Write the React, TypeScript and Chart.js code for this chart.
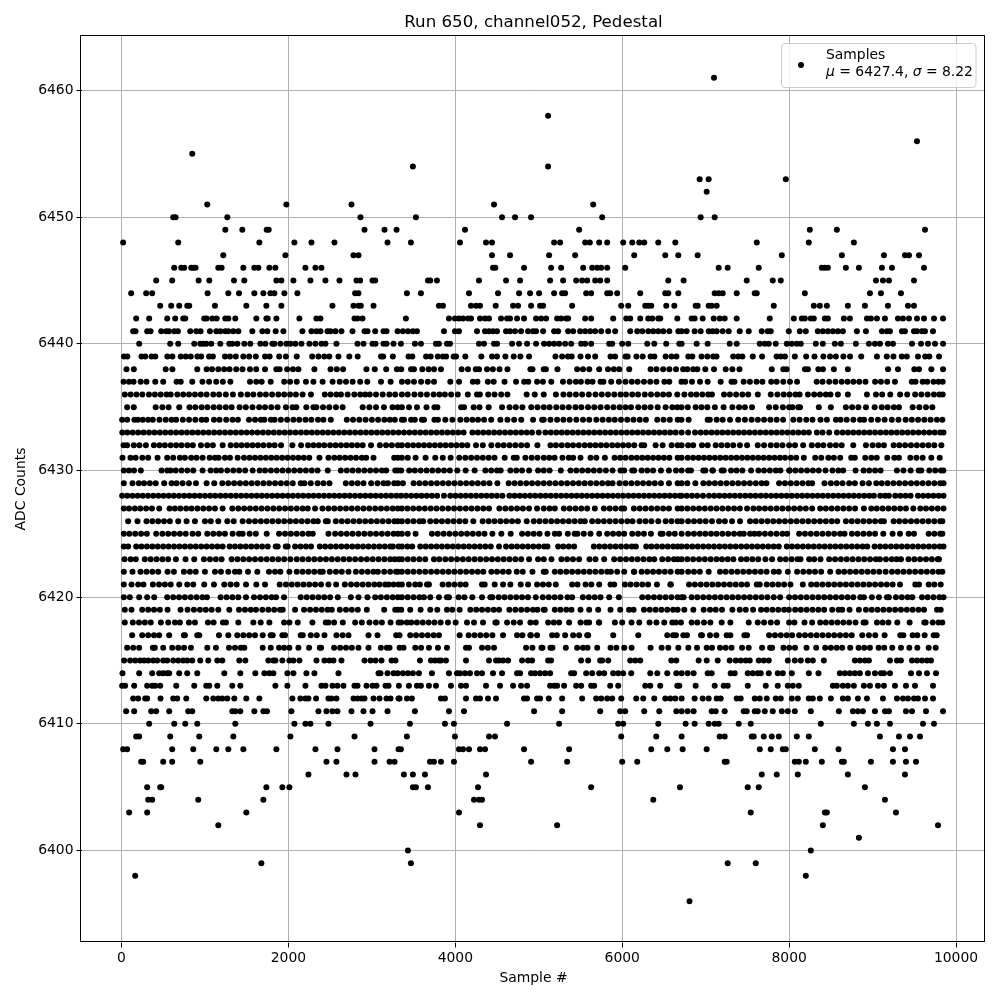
import React, { useEffect, useRef } from "react";
import { Chart, registerables } from "chart.js";

Chart.register(...registerables);

const titleText = "Run 650, channel052, Pedestal";
const xAxisLabel = "Sample #";
const yAxisLabel = "ADC Counts";
const seriesLabel = "Samples";
const meanValue = "6427.4";
const sigmaValue = "8.22";
const xTickValues = [0, 2000, 4000, 6000, 8000, 10000];
const yTickValues = [6400, 6410, 6420, 6430, 6440, 6450, 6460];
const FONT = "'DejaVu Sans'";

const lv6461 = [7100];
const lv6458 = [5112];
const lv6456 = [9532];
const lv6455 = [848];
const lv6454 = [3492, 5112];
const lv6453 = [6928, 7036, 7960];
const lv6452 = [7012];
const lv6451 = [1028, 1976, 2756, 4464, 5652];
const lv6450 = [620, 648, 1268, 2864, 3528, 4560, 4716, 4908, 5760, 6940, 7108];
const lv6449 = [1244, 1448, 1740, 1764, 2912, 3152, 3296, 4116, 5484, 8248, 8572, 9628];
const lv6448 = [20, 680, 1652, 2072, 2276, 2552, 3188, 3468, 4056, 4368, 4440, 5184, 5256, 5556, 5612, 5724, 5820, 6012, 6120, 6204, 6264, 6432, 6636, 7612, 8236, 8776];
const lv6447 = [1220, 1964, 2780, 2840, 4440, 4656, 5124, 5436, 6144, 6516, 6672, 6904, 7912, 8632, 9136, 9388, 9436, 9556];
const lv6446 = [632, 716, 752, 836, 860, 888, 1160, 1200, 1460, 1592, 1640, 1772, 1844, 2204, 2324, 2396, 4452, 4480, 4824, 5148, 5268, 5532, 5640, 5700, 5748, 5820, 6036, 7156, 7264, 7636, 8392, 8428, 8464, 8680, 8836, 9112, 9232, 9616];
const lv6445 = [416, 608, 924, 1052, 1348, 1472, 1856, 1916, 2060, 2264, 2444, 2612, 2816, 2860, 3008, 3040, 3672, 3700, 3780, 4284, 4608, 4776, 5136, 5292, 5448, 5520, 5580, 5676, 5736, 5820, 6552, 6736, 7492, 7804, 7900, 9040, 9124, 9196, 9496];
const lv6444 = [116, 296, 368, 1032, 1280, 1408, 1592, 1700, 1784, 1832, 1952, 2108, 2800, 2840, 3420, 3588, 4164, 4512, 4764, 4896, 5004, 5184, 5280, 5316, 5568, 5628, 5820, 5856, 5940, 6216, 6516, 6552, 6672, 7108, 7156, 7204, 7372, 7588, 7612, 8188, 8968, 9100, 9340];
const lv6443 = [464, 596, 692, 788, 812, 1120, 1496, 1736, 1916, 2528, 2780, 2840, 2868, 3020, 3804, 3852, 4188, 4248, 4296, 4484, 4692, 4752, 4908, 5016, 5052, 5400, 5988, 6072, 6276, 6312, 6348, 6528, 6624, 6880, 6904, 7036, 7072, 7132, 7816, 8296, 8368, 8452, 8704, 8908, 9184, 9424, 9496];
const lv6442 = [176, 332, 548, 644, 740, 764, 992, 1020, 1088, 1140, 1244, 1280, 1364, 1616, 1736, 1752, 1856, 2132, 2336, 2384, 2792, 2828, 2888, 3408, 3924, 3996, 4044, 4092, 4152, 4188, 4296, 4356, 4404, 4548, 4620, 4656, 4740, 4824, 4968, 5028, 5088, 5220, 5268, 5328, 5352, 5556, 5628, 5892, 6048, 6096, 6216, 6312, 6360, 6432, 6456, 6660, 6832, 6868, 6964, 7096, 7168, 7228, 7372, 7768, 8056, 8152, 8188, 8260, 8296, 8428, 8464, 8656, 8728, 8932, 8980, 9052, 9148, 9304, 9364, 9436, 9532, 9616, 9736, 9844];
const lv6441 = [140, 168, 308, 348, 476, 536, 568, 632, 676, 824, 896, 948, 1060, 1136, 1184, 1244, 1280, 1340, 1400, 1568, 1688, 1748, 1848, 1940, 2168, 2276, 2336, 2384, 2468, 2504, 2564, 2636, 2768, 2912, 2948, 3040, 3140, 3176, 3308, 3372, 3432, 3492, 3540, 3864, 3996, 4044, 4260, 4356, 4404, 4452, 4500, 4608, 4656, 4716, 4788, 4872, 4932, 4968, 5052, 5184, 5232, 5352, 5412, 5496, 5556, 5616, 5676, 5748, 5832, 5916, 6096, 6180, 6240, 6312, 6372, 6432, 6492, 6564, 6672, 6712, 6772, 6868, 6940, 7036, 7084, 7132, 7204, 7276, 7408, 7516, 7672, 7744, 7780, 7996, 8128, 8200, 8344, 8404, 8464, 8524, 8584, 8644, 8812, 8920, 9112, 9172, 9208, 9352, 9388, 9496, 9532, 9592, 9628, 9724];
const lv6440 = [212, 584, 680, 872, 944, 980, 1016, 1076, 1184, 1292, 1328, 1388, 1472, 1544, 1664, 1724, 1808, 1832, 1904, 1976, 2024, 2084, 2156, 2252, 2324, 2396, 2444, 2576, 2828, 2900, 3008, 3044, 3140, 3176, 3260, 3348, 3516, 3588, 3768, 3804, 3900, 3936, 4284, 4344, 4464, 4500, 4680, 4764, 4860, 4968, 5064, 5124, 5184, 5244, 5316, 5388, 5508, 5556, 5628, 5844, 5880, 6000, 6072, 6300, 6384, 6528, 6684, 6712, 6892, 7024, 7288, 7372, 7648, 7708, 7756, 7840, 7972, 8032, 8092, 8140, 8320, 8404, 8548, 8620, 8800, 8956, 9028, 9088, 9184, 9244, 9472, 9580, 9664, 9748, 9844];
const lv6439 = [30, 70, 240, 285, 360, 405, 550, 610, 710, 770, 830, 910, 955, 1050, 1095, 1240, 1300, 1370, 1460, 1530, 1610, 1720, 1775, 1890, 1970, 2100, 2285, 2360, 2430, 2490, 2600, 2730, 2830, 3110, 3135, 3252, 3440, 3485, 3650, 3705, 3790, 3850, 3890, 3980, 4010, 4120, 4312, 4440, 4500, 4600, 4700, 4780, 4884, 5200, 5280, 5350, 5395, 5500, 5590, 5676, 5860, 5915, 6040, 6065, 6170, 6245, 6340, 6385, 6520, 6590, 6650, 6792, 6840, 6950, 7020, 7090, 7130, 7330, 7390, 7440, 7564, 7676, 7850, 7900, 7950, 8068, 8204, 8304, 8410, 8490, 8560, 8650, 8730, 8864, 9052, 9170, 9250, 9350, 9410, 9544, 9630, 9680, 9796];
const lv6438 = [60, 148, 530, 610, 908, 1020, 1085, 1160, 1230, 1295, 1375, 1450, 1540, 1615, 1720, 1855, 1895, 1985, 2055, 2120, 2312, 2505, 2580, 2655, 2935, 3035, 3172, 3300, 3352, 3470, 3505, 3605, 3680, 3745, 3828, 4076, 4152, 4245, 4285, 4380, 4450, 4530, 4625, 4900, 4925, 5060, 5085, 5224, 5460, 5530, 5605, 5724, 5830, 5900, 5965, 6084, 6340, 6410, 6490, 6565, 6645, 6730, 6780, 6850, 6900, 6996, 7100, 7240, 7320, 7405, 7792, 7930, 7970, 8190, 8225, 8350, 8405, 8536, 8704, 9185, 9304, 9500, 9556, 9704, 9844];
const lv6437 = [25, 90, 145, 230, 300, 405, 500, 660, 710, 848, 970, 1050, 1135, 1215, 1305, 1540, 1615, 1680, 1788, 1950, 2020, 2100, 2210, 2300, 2410, 2530, 2615, 2690, 2770, 2860, 2945, 3110, 3225, 3360, 3430, 3505, 3590, 3670, 3745, 3940, 4045, 4210, 4265, 4390, 4460, 4590, 4728, 4825, 4875, 4980, 5050, 5150, 5290, 5370, 5445, 5505, 5585, 5645, 5740, 5775, 5868, 5960, 6040, 6115, 6185, 6260, 6335, 6410, 6505, 6564, 6710, 6755, 6836, 6932, 7024, 7180, 7310, 7345, 7455, 7530, 7610, 7680, 7785, 7850, 7930, 8010, 8095, 8330, 8400, 8480, 8555, 8630, 8700, 8770, 8840, 8915, 9030, 9100, 9175, 9268, 9470, 9515, 9600, 9655, 9730, 9790, 9840];
const lv6436 = [40, 110, 180, 250, 330, 400, 470, 540, 590, 670, 740, 810, 880, 950, 1020, 1100, 1170, 1250, 1335, 1430, 1510, 1580, 1660, 1730, 1805, 1880, 1950, 2020, 2090, 2170, 2270, 2436, 2505, 2575, 2630, 2710, 2790, 2860, 2920, 2975, 3050, 3130, 3210, 3280, 3360, 3430, 3510, 3585, 3660, 3740, 3810, 3875, 3950, 4030, 4150, 4260, 4295, 4395, 4470, 4550, 4625, 4855, 4952, 5060, 5205, 5295, 5370, 5445, 5520, 5600, 5680, 5755, 5830, 5905, 5980, 6045, 6120, 6190, 6270, 6345, 6420, 6490, 6560, 6660, 6745, 6824, 6890, 6960, 7030, 7075, 7220, 7290, 7365, 7440, 7510, 7625, 7780, 7860, 7935, 8005, 8075, 8125, 8225, 8300, 8370, 8440, 8495, 8584, 8704, 8932, 9040, 9115, 9212, 9330, 9415, 9510, 9585, 9660, 9735, 9800, 9840];
const lv6435 = [68, 148, 410, 490, 565, 692, 815, 885, 960, 1030, 1105, 1175, 1250, 1320, 1415, 1490, 1570, 1650, 1720, 1795, 1870, 1970, 2050, 2095, 2215, 2300, 2335, 2415, 2490, 2570, 2650, 2890, 2970, 3050, 3145, 3248, 3310, 3360, 3445, 3540, 3655, 3750, 3785, 4070, 4105, 4220, 4290, 4400, 4560, 4650, 4725, 4804, 4910, 4985, 5060, 5130, 5210, 5285, 5360, 5440, 5510, 5590, 5665, 5740, 5820, 5895, 5970, 6040, 6105, 6192, 6268, 6340, 6425, 6520, 6600, 6660, 6710, 6785, 6880, 6950, 7020, 7110, 7215, 7320, 7400, 7470, 7555, 7760, 7840, 7925, 8000, 8040, 8110, 8130, 8356, 8500, 8680, 8755, 8830, 8920, 9025, 9110, 9180, 9255, 9316, 9480, 9560, 9640, 9716];
const lv6434 = [8, 68, 155, 195, 255, 320, 375, 455, 530, 600, 655, 735, 810, 885, 960, 1015, 1108, 1175, 1255, 1330, 1395, 1528, 1600, 1670, 1712, 1790, 1835, 1910, 1985, 2060, 2130, 2205, 2275, 2355, 2420, 2508, 2700, 2775, 2850, 2925, 3000, 3075, 3150, 3215, 3275, 3360, 3385, 3470, 3515, 3600, 3625, 3750, 3792, 3880, 3965, 4060, 4135, 4205, 4272, 4345, 4430, 4540, 4625, 4705, 4790, 4932, 5040, 5060, 5140, 5220, 5295, 5370, 5450, 5530, 5605, 5690, 5765, 5840, 5910, 5985, 6060, 6135, 6210, 6284, 6420, 6495, 6570, 6665, 6710, 6796, 7024, 7050, 7132, 7204, 7292, 7390, 7470, 7550, 7625, 7700, 7775, 7850, 7928, 8050, 8125, 8205, 8280, 8376, 8452, 8560, 8616, 8690, 8770, 8850, 8898, 8984, 9064, 9144, 9230, 9310, 9396, 9470, 9545, 9620, 9695, 9770, 9836];
const lv6433 = [10, 70, 135, 200, 265, 330, 395, 460, 525, 590, 655, 720, 785, 850, 915, 980, 1045, 1110, 1175, 1240, 1305, 1370, 1435, 1500, 1565, 1630, 1695, 1760, 1825, 1890, 1955, 2020, 2085, 2150, 2215, 2280, 2345, 2410, 2475, 2540, 2605, 2670, 2735, 2800, 2865, 2930, 2995, 3060, 3125, 3190, 3255, 3320, 3385, 3450, 3515, 3580, 3645, 3710, 3775, 3840, 3905, 3970, 4035, 4100, 4205, 4270, 4335, 4400, 4465, 4530, 4595, 4660, 4725, 4790, 4855, 4920, 5000, 5080, 5145, 5210, 5275, 5340, 5405, 5470, 5535, 5600, 5665, 5730, 5795, 5860, 5925, 5990, 6055, 6120, 6185, 6250, 6315, 6380, 6445, 6510, 6575, 6640, 6712, 6790, 6872, 6940, 7005, 7070, 7135, 7200, 7265, 7330, 7395, 7460, 7525, 7590, 7655, 7720, 7785, 7850, 7915, 7980, 8045, 8110, 8175, 8236, 8332, 8400, 8480, 8572, 8640, 8705, 8770, 8835, 8900, 8965, 9030, 9095, 9160, 9225, 9290, 9355, 9420, 9485, 9550, 9615, 9680, 9745, 9810, 9850];
const lv6432 = [25, 68, 148, 215, 292, 388, 455, 520, 590, 655, 720, 790, 855, 952, 1028, 1095, 1212, 1308, 1375, 1440, 1505, 1570, 1635, 1700, 1770, 1835, 1912, 2048, 2152, 2236, 2300, 2365, 2430, 2500, 2565, 2630, 2695, 2760, 2825, 2890, 2990, 3096, 3170, 3240, 3312, 3360, 3430, 3495, 3560, 3625, 3690, 3755, 3820, 3885, 3950, 4015, 4080, 4144, 4248, 4330, 4432, 4512, 4580, 4650, 4720, 4790, 4860, 4984, 5140, 5205, 5275, 5345, 5410, 5480, 5550, 5615, 5680, 5745, 5810, 5880, 5945, 6010, 6075, 6144, 6232, 6264, 6400, 6484, 6592, 6664, 6712, 6790, 6850, 6956, 7024, 7120, 7190, 7260, 7330, 7410, 7496, 7624, 7700, 7780, 7850, 7920, 8000, 8070, 8168, 8272, 8345, 8410, 8490, 8560, 8630, 8768, 8920, 9000, 9070, 9136, 9252, 9320, 9390, 9460, 9530, 9600, 9670, 9740, 9824];
const lv6431 = [12, 108, 170, 250, 320, 432, 548, 620, 700, 760, 835, 900, 972, 1056, 1120, 1164, 1240, 1300, 1392, 1468, 1535, 1600, 1665, 1730, 1795, 1860, 1925, 1990, 2055, 2120, 2185, 2250, 2372, 2480, 2550, 2615, 2680, 2745, 2810, 2880, 2932, 3020, 3268, 3312, 3360, 3430, 3524, 3644, 3760, 3850, 3944, 4048, 4120, 4190, 4260, 4330, 4400, 4470, 4592, 4700, 4736, 4840, 4915, 4985, 5060, 5125, 5190, 5284, 5360, 5412, 5500, 5620, 5690, 5792, 5908, 5975, 6040, 6110, 6175, 6240, 6305, 6370, 6435, 6500, 6565, 6664, 6712, 6785, 6850, 6915, 6980, 7045, 7110, 7175, 7240, 7305, 7370, 7435, 7500, 7565, 7630, 7695, 7760, 7825, 7890, 7950, 8020, 8085, 8176, 8312, 8385, 8470, 8536, 8612, 8744, 8788, 8912, 8985, 9050, 9176, 9260, 9316, 9452, 9525, 9600, 9704, 9804];
const lv6430 = [28, 90, 150, 232, 480, 548, 588, 650, 720, 790, 860, 972, 1068, 1135, 1192, 1268, 1340, 1410, 1482, 1572, 1656, 1720, 1790, 1860, 1930, 2000, 2070, 2140, 2210, 2280, 2350, 2472, 2628, 2700, 2770, 2840, 2910, 2980, 3050, 3120, 3172, 3280, 3312, 3352, 3448, 3515, 3585, 3655, 3725, 3795, 3865, 3935, 4024, 4124, 4232, 4360, 4430, 4500, 4544, 4660, 4730, 4800, 4884, 4992, 5060, 5130, 5264, 5380, 5450, 5520, 5590, 5660, 5730, 5804, 5884, 5980, 6024, 6120, 6144, 6232, 6300, 6370, 6464, 6560, 6644, 6712, 6790, 6824, 6972, 6996, 7080, 7088, 7192, 7216, 7304, 7370, 7440, 7544, 7632, 7700, 7770, 7840, 7896, 8000, 8008, 8076, 8144, 8215, 8285, 8355, 8436, 8520, 8590, 8648, 8796, 8892, 8960, 9030, 9096, 9292, 9370, 9456, 9552, 9584, 9680, 9750, 9820, 9848];
const lv6429 = [28, 132, 208, 270, 340, 410, 512, 600, 660, 732, 808, 892, 1020, 1112, 1208, 1280, 1350, 1420, 1490, 1560, 1630, 1700, 1770, 1840, 1910, 1980, 2052, 2148, 2192, 2268, 2350, 2420, 2492, 2688, 2760, 2830, 2900, 2992, 3068, 3140, 3192, 3268, 3312, 3372, 3500, 3570, 3640, 3710, 3780, 3850, 3920, 3990, 4060, 4130, 4200, 4270, 4340, 4410, 4504, 4640, 4710, 4780, 4850, 4920, 4990, 5060, 5130, 5200, 5270, 5340, 5410, 5480, 5550, 5620, 5690, 5760, 5830, 5884, 5968, 6040, 6110, 6180, 6250, 6320, 6390, 6464, 6560, 6664, 6712, 6780, 6876, 6972, 7040, 7110, 7180, 7250, 7320, 7390, 7460, 7530, 7600, 7670, 7728, 7880, 7950, 8020, 8090, 8160, 8230, 8276, 8424, 8500, 8570, 8640, 8720, 8788, 8880, 8956, 9044, 9110, 9180, 9250, 9320, 9390, 9460, 9530, 9600, 9670, 9740, 9810, 9850];
const lv6428 = [8, 70, 132, 194, 256, 318, 380, 442, 504, 566, 628, 690, 752, 814, 876, 938, 1000, 1062, 1124, 1186, 1248, 1310, 1372, 1434, 1496, 1558, 1620, 1682, 1744, 1806, 1868, 1930, 1992, 2054, 2116, 2178, 2240, 2302, 2364, 2426, 2488, 2550, 2612, 2674, 2736, 2798, 2860, 2922, 2984, 3046, 3108, 3170, 3232, 3294, 3350, 3410, 3472, 3534, 3596, 3658, 3720, 3782, 3864, 3940, 4002, 4064, 4126, 4188, 4250, 4312, 4374, 4436, 4498, 4564, 4648, 4710, 4772, 4834, 4896, 4958, 5020, 5082, 5144, 5206, 5268, 5330, 5392, 5454, 5516, 5578, 5640, 5702, 5764, 5826, 5888, 5950, 6012, 6074, 6136, 6198, 6260, 6322, 6384, 6446, 6508, 6570, 6632, 6690, 6712, 6774, 6836, 6898, 6968, 7040, 7102, 7164, 7226, 7288, 7350, 7412, 7474, 7536, 7598, 7660, 7722, 7784, 7846, 7908, 7970, 8032, 8094, 8156, 8218, 8280, 8342, 8404, 8466, 8528, 8590, 8652, 8714, 8776, 8838, 8900, 8962, 9016, 9092, 9150, 9196, 9272, 9334, 9396, 9456, 9544, 9606, 9668, 9730, 9792, 9850];
const lv6427 = [28, 90, 160, 225, 295, 365, 452, 576, 640, 705, 775, 840, 910, 980, 1050, 1120, 1212, 1328, 1400, 1470, 1540, 1610, 1680, 1750, 1820, 1890, 1960, 2030, 2100, 2170, 2232, 2320, 2408, 2480, 2550, 2620, 2690, 2760, 2830, 2900, 2970, 3040, 3110, 3180, 3250, 3312, 3360, 3425, 3495, 3565, 3635, 3705, 3775, 3845, 3915, 3985, 4055, 4125, 4195, 4265, 4335, 4404, 4528, 4600, 4670, 4740, 4810, 4884, 4980, 5060, 5130, 5192, 5300, 5370, 5440, 5510, 5580, 5672, 5780, 5850, 5920, 5990, 6024, 6140, 6210, 6280, 6350, 6420, 6490, 6560, 6664, 6712, 6780, 6850, 6920, 6990, 7060, 7130, 7200, 7270, 7340, 7410, 7496, 7572, 7640, 7710, 7780, 7850, 7920, 7990, 8060, 8130, 8200, 8276, 8372, 8440, 8510, 8580, 8650, 8720, 8790, 8896, 8984, 9050, 9120, 9190, 9260, 9330, 9400, 9488, 9572, 9640, 9710, 9780, 9850];
const lv6426 = [80, 192, 300, 370, 440, 510, 580, 680, 780, 880, 1000, 1070, 1160, 1268, 1345, 1452, 1528, 1600, 1670, 1740, 1810, 1880, 1950, 2020, 2090, 2160, 2230, 2300, 2352, 2448, 2472, 2568, 2640, 2710, 2780, 2850, 2920, 2990, 3060, 3130, 3200, 3270, 3312, 3360, 3430, 3500, 3570, 3616, 3700, 3770, 3840, 3910, 3980, 4050, 4120, 4216, 4328, 4400, 4470, 4540, 4610, 4680, 4750, 4856, 4940, 5010, 5080, 5150, 5220, 5290, 5360, 5430, 5500, 5552, 5640, 5710, 5780, 5850, 5920, 5990, 6060, 6124, 6208, 6280, 6350, 6432, 6520, 6590, 6664, 6712, 6790, 6860, 6930, 7000, 7076, 7160, 7230, 7316, 7412, 7532, 7600, 7670, 7740, 7810, 7880, 7950, 8020, 8090, 8160, 8230, 8300, 8370, 8440, 8510, 8576, 8680, 8750, 8820, 8890, 8960, 9030, 9100, 9136, 9252, 9320, 9390, 9460, 9530, 9600, 9670, 9740, 9810, 9836];
const lv6425 = [28, 95, 165, 235, 304, 416, 490, 560, 630, 700, 770, 852, 920, 1028, 1100, 1170, 1240, 1332, 1408, 1452, 1536, 1610, 1740, 1888, 1960, 2030, 2100, 2170, 2240, 2292, 2480, 2560, 2630, 2700, 2770, 2840, 2910, 2980, 3050, 3120, 3190, 3260, 3312, 3360, 3430, 3524, 3720, 3790, 3860, 3930, 4000, 4070, 4140, 4210, 4280, 4350, 4444, 4552, 4664, 4800, 4870, 4940, 5010, 5104, 5192, 5244, 5348, 5430, 5464, 5540, 5620, 5724, 5820, 5890, 5960, 6024, 6120, 6190, 6260, 6344, 6460, 6484, 6560, 6630, 6712, 6790, 6860, 6930, 6996, 7064, 7130, 7200, 7270, 7340, 7410, 7456, 7532, 7584, 7640, 7710, 7780, 7850, 7920, 7976, 8120, 8190, 8260, 8330, 8400, 8470, 8540, 8610, 8664, 8752, 8820, 8890, 8960, 9030, 9128, 9240, 9328, 9432, 9496, 9672, 9740, 9810, 9836];
const lv6424 = [28, 80, 176, 240, 305, 370, 435, 500, 565, 630, 695, 760, 825, 890, 955, 1020, 1085, 1150, 1212, 1296, 1360, 1425, 1490, 1555, 1620, 1685, 1752, 1848, 1872, 1968, 1992, 2080, 2145, 2210, 2272, 2376, 2440, 2505, 2570, 2635, 2700, 2765, 2830, 2895, 2960, 3025, 3090, 3155, 3220, 3252, 3320, 3360, 3425, 3484, 3580, 3645, 3710, 3775, 3840, 3905, 3970, 4035, 4100, 4165, 4230, 4295, 4360, 4425, 4524, 4608, 4675, 4740, 4805, 4870, 4935, 5000, 5065, 5104, 5232, 5295, 5360, 5424, 5660, 5725, 5790, 5855, 5920, 5985, 6050, 6115, 6164, 6288, 6350, 6415, 6480, 6545, 6610, 6664, 6712, 6775, 6840, 6905, 6970, 7035, 7100, 7165, 7230, 7295, 7360, 7425, 7490, 7555, 7620, 7685, 7750, 7815, 7876, 7972, 8035, 8100, 8165, 8230, 8295, 8360, 8425, 8490, 8555, 8620, 8685, 8750, 8815, 8880, 8936, 9024, 9090, 9155, 9220, 9285, 9350, 9415, 9480, 9545, 9610, 9675, 9740, 9805, 9850];
const lv6423 = [36, 110, 172, 280, 350, 420, 490, 560, 652, 768, 872, 988, 1060, 1130, 1200, 1320, 1390, 1460, 1530, 1600, 1670, 1740, 1810, 1880, 1950, 2024, 2100, 2170, 2240, 2310, 2380, 2450, 2520, 2590, 2660, 2730, 2800, 2870, 2940, 3010, 3080, 3150, 3220, 3272, 3320, 3360, 3430, 3500, 3570, 3640, 3744, 3808, 3880, 3950, 4020, 4090, 4160, 4230, 4300, 4370, 4440, 4510, 4580, 4650, 4720, 4790, 4884, 4992, 5060, 5152, 5272, 5340, 5410, 5484, 5608, 5680, 5784, 5904, 5975, 6045, 6115, 6185, 6255, 6325, 6384, 6480, 6550, 6620, 6664, 6712, 6780, 6850, 6920, 6990, 7060, 7130, 7196, 7264, 7332, 7424, 7490, 7560, 7630, 7716, 7796, 7892, 7960, 8030, 8100, 8136, 8240, 8300, 8376, 8480, 8550, 8620, 8690, 8760, 8830, 8900, 8970, 9040, 9088, 9160, 9230, 9288, 9340, 9430, 9500, 9570, 9640, 9710, 9780, 9796];
const lv6422 = [28, 132, 228, 300, 370, 440, 552, 628, 748, 820, 890, 1000, 1120, 1192, 1280, 1360, 1412, 1516, 1628, 1768, 1840, 1904, 2012, 2100, 2170, 2240, 2310, 2380, 2412, 2496, 2570, 2640, 2720, 2808, 2880, 2950, 3020, 3072, 3148, 3220, 3290, 3312, 3360, 3430, 3500, 3570, 3640, 3710, 3780, 3850, 3920, 3990, 4060, 4130, 4200, 4270, 4336, 4432, 4500, 4570, 4640, 4736, 4808, 4924, 5060, 5084, 5192, 5260, 5330, 5400, 5470, 5540, 5610, 5680, 5750, 5820, 5864, 5940, 6024, 6140, 6144, 6232, 6300, 6370, 6440, 6510, 6580, 6664, 6712, 6790, 6860, 6930, 7036, 7172, 7240, 7310, 7380, 7450, 7520, 7590, 7660, 7730, 7816, 7876, 7984, 8096, 8170, 8240, 8310, 8384, 8492, 8592, 8660, 8730, 8800, 8870, 8940, 9010, 9080, 9156, 9232, 9300, 9370, 9440, 9510, 9580, 9650, 9720, 9790, 9836];
const lv6421 = [28, 120, 200, 264, 376, 450, 520, 590, 692, 788, 860, 992, 1108, 1232, 1308, 1380, 1492, 1616, 1720, 1896, 1970, 2040, 2110, 2180, 2250, 2320, 2392, 2480, 2572, 2676, 2750, 2820, 2890, 2960, 3030, 3092, 3160, 3200, 3260, 3320, 3360, 3444, 3520, 3576, 3660, 3684, 3848, 3920, 3990, 4060, 4124, 4320, 4352, 4472, 4572, 4660, 4784, 4872, 4980, 5050, 5120, 5204, 5400, 5464, 5560, 5630, 5724, 5860, 5904, 6032, 6100, 6170, 6240, 6310, 6416, 6576, 6584, 6800, 6870, 6940, 7010, 7080, 7150, 7220, 7290, 7360, 7430, 7496, 7612, 7648, 7732, 7800, 7870, 7940, 8016, 8164, 8264, 8330, 8400, 8470, 8540, 8610, 8680, 8750, 8820, 8890, 8960, 9030, 9100, 9170, 9240, 9328, 9512, 9556, 9672, 9740, 9816];
const lv6420 = [28, 100, 212, 308, 392, 548, 620, 690, 760, 830, 900, 970, 1024, 1188, 1260, 1330, 1400, 1492, 1588, 1660, 1730, 1800, 1852, 1948, 2148, 2220, 2290, 2360, 2430, 2500, 2592, 2748, 2840, 2948, 3040, 3108, 3180, 3250, 3312, 3360, 3430, 3500, 3570, 3624, 3700, 3804, 3900, 3924, 4040, 4110, 4204, 4320, 4420, 4444, 4520, 4590, 4660, 4730, 4800, 4870, 4964, 5048, 5120, 5190, 5260, 5344, 5400, 5528, 5600, 5670, 5740, 5844, 5960, 6240, 6310, 6380, 6450, 6520, 6590, 6664, 6712, 6736, 6832, 6900, 6970, 7040, 7110, 7180, 7250, 7320, 7390, 7460, 7530, 7600, 7670, 7740, 7816, 7892, 8000, 8070, 8140, 8210, 8280, 8350, 8420, 8490, 8560, 8630, 8700, 8768, 8852, 8896, 8992, 9076, 9172, 9196, 9280, 9350, 9420, 9476, 9592, 9660, 9730, 9800, 9850];
const lv6419 = [40, 120, 248, 320, 390, 460, 552, 708, 792, 868, 940, 1010, 1080, 1160, 1292, 1408, 1480, 1550, 1612, 1688, 1760, 1830, 1900, 1932, 2080, 2188, 2260, 2330, 2400, 2470, 2520, 2616, 2690, 2760, 2832, 2940, 3148, 3280, 3312, 3352, 3460, 3584, 3700, 3784, 3900, 3964, 4052, 4180, 4250, 4320, 4390, 4460, 4524, 4648, 4720, 4790, 4860, 4930, 4984, 5060, 5072, 5192, 5260, 5330, 5392, 5500, 5604, 5712, 5860, 5976, 6082, 6136, 6260, 6330, 6400, 6470, 6540, 6610, 6664, 6744, 6852, 6976, 7052, 7120, 7196, 7320, 7408, 7480, 7568, 7664, 7730, 7800, 7870, 7940, 7996, 8072, 8140, 8210, 8280, 8350, 8420, 8516, 8592, 8636, 8724, 8836, 8920, 8990, 9060, 9130, 9200, 9270, 9340, 9410, 9480, 9550, 9616, 9772, 9816];
const lv6418 = [40, 136, 210, 280, 350, 472, 560, 640, 700, 808, 880, 1036, 1104, 1216, 1252, 1400, 1580, 1668, 1772, 1948, 2012, 2112, 2288, 2448, 2480, 2548, 2652, 2800, 2880, 2972, 3048, 3120, 3224, 3320, 3352, 3420, 3472, 3540, 3610, 3680, 3750, 3824, 3912, 4004, 4140, 4224, 4332, 4480, 4496, 4620, 4700, 4776, 4900, 4964, 5112, 5180, 5244, 5364, 5500, 5570, 5604, 5720, 5724, 5912, 6000, 6112, 6204, 6328, 6410, 6504, 6600, 6644, 6704, 6832, 6900, 6980, 7056, 7192, 7296, 7516, 7624, 7700, 7780, 7856, 8000, 8064, 8184, 8276, 8372, 8440, 8510, 8580, 8650, 8720, 8796, 8892, 8916, 9052, 9120, 9190, 9296, 9444, 9620, 9636, 9720, 9790, 9836];
const lv6417 = [128, 248, 320, 390, 452, 572, 748, 760, 908, 932, 1168, 1280, 1388, 1460, 1530, 1600, 1692, 1788, 1812, 1928, 1960, 2148, 2172, 2268, 2340, 2432, 2576, 2650, 2720, 2960, 3068, 3292, 3332, 3460, 3530, 3600, 3670, 3740, 3804, 4052, 4160, 4230, 4300, 4370, 4444, 4572, 4740, 4804, 4900, 4904, 4980, 5160, 5216, 5316, 5412, 5484, 5580, 5592, 5892, 6192, 6540, 6610, 6644, 6732, 6776, 6944, 6956, 7052, 7128, 7252, 7296, 7464, 7496, 7760, 7830, 7900, 7970, 8036, 8120, 8190, 8260, 8330, 8400, 8470, 8540, 8610, 8680, 8750, 8876, 8956, 9032, 9144, 9332, 9368, 9480, 9536, 9624, 9732, 9768];
const lv6416 = [68, 140, 212, 376, 400, 500, 608, 680, 750, 832, 1028, 1132, 1288, 1360, 1430, 1472, 1692, 1788, 1888, 1950, 2012, 2120, 2248, 2376, 2392, 2548, 2620, 2690, 2760, 2840, 2960, 3108, 3180, 3212, 3332, 3380, 3520, 3590, 3684, 3792, 3900, 4128, 4164, 4320, 4390, 4464, 4848, 4924, 5032, 5044, 5140, 5164, 5324, 5460, 5530, 5584, 5700, 5860, 5930, 6024, 6112, 6340, 6472, 6552, 6672, 6792, 6896, 7012, 7076, 7172, 7240, 7310, 7436, 7516, 7676, 7772, 7796, 7932, 8000, 8070, 8208, 8324, 8432, 8500, 8570, 8636, 8732, 8832, 8900, 8968, 9072, 9140, 9236, 9340, 9440, 9536, 9672, 9756];
const lv6415 = [32, 104, 164, 224, 272, 320, 380, 428, 500, 548, 620, 680, 740, 788, 848, 944, 1040, 1148, 1208, 1412, 1484, 1760, 1820, 1844, 1928, 2012, 2060, 2132, 2336, 2432, 2492, 2540, 2636, 2912, 2984, 3044, 3116, 3236, 3284, 3576, 3708, 3756, 3804, 3828, 3888, 4128, 4404, 4488, 4524, 4572, 4632, 4800, 4872, 4920, 5112, 5148, 5508, 5592, 5736, 5760, 5832, 6096, 6156, 6216, 6588, 6648, 6916, 7012, 7144, 7288, 7360, 7420, 7480, 7528, 7636, 7696, 7756, 7984, 8068, 8140, 8224, 8284, 8416, 8788, 8848, 8908, 8956, 9208, 9292, 9340, 9472, 9532, 9592, 9652, 9700];
const lv6414 = [12, 212, 368, 452, 500, 548, 572, 692, 788, 908, 1232, 1424, 1604, 1712, 1772, 1820, 1988, 2060, 2216, 2312, 2600, 3080, 3104, 3188, 3260, 3308, 3372, 3432, 3492, 3564, 3720, 3924, 4020, 4056, 4116, 4176, 4260, 4320, 4452, 4560, 4740, 4776, 4908, 4956, 5016, 5076, 5136, 5388, 5424, 5568, 5640, 5724, 5784, 5892, 5952, 6012, 6108, 6336, 6420, 6540, 6648, 6712, 6784, 6856, 7024, 7072, 7300, 7348, 7504, 7564, 7624, 7660, 7756, 7864, 7924, 8032, 8236, 8352, 8608, 8668, 8728, 8788, 8848, 8944, 9028, 9100, 9136, 9208, 9460, 9556, 9652, 9760];
const lv6413 = [8, 44, 152, 308, 368, 404, 464, 656, 872, 1016, 1052, 1148, 1328, 1424, 1844, 1988, 2204, 2396, 2444, 2528, 2588, 2660, 2792, 2828, 2936, 3008, 3056, 3164, 3200, 3324, 3444, 3540, 3588, 3684, 3768, 3948, 4068, 4128, 4368, 4536, 4692, 4788, 4860, 5136, 5184, 5220, 5304, 5448, 5508, 5628, 5664, 5856, 5952, 6276, 6336, 6456, 6660, 6684, 6880, 7108, 7216, 7264, 7504, 7720, 7864, 7984, 8044, 8116, 8524, 8572, 8644, 8704, 8776, 8896, 8968, 9064, 9136, 9268, 9400, 9508, 9724];
const lv6412 = [140, 200, 284, 308, 468, 620, 668, 776, 1016, 1100, 1160, 1208, 1268, 1352, 1496, 1652, 2048, 2144, 2204, 2240, 2332, 2480, 2516, 2576, 2780, 2828, 2876, 2912, 3020, 3092, 3176, 3224, 3320, 3332, 3420, 3480, 3828, 3876, 4128, 4248, 4296, 4392, 4488, 4824, 4860, 4980, 5016, 5120, 5280, 5520, 5688, 5748, 5820, 5880, 5988, 6168, 6252, 6384, 6516, 6576, 6636, 6712, 6868, 6964, 7036, 7132, 7180, 7372, 7420, 7588, 7648, 7732, 7840, 7900, 8032, 8104, 8236, 8284, 8368, 8500, 8644, 8704, 8824, 8932, 9124, 9292, 9364, 9424, 9496, 9544, 9628, 9724];
const lv6411 = [56, 152, 356, 416, 572, 800, 848, 1328, 1364, 1424, 1592, 1700, 1744, 2036, 2360, 2456, 2528, 2588, 2756, 2900, 3008, 3188, 3516, 3924, 4104, 4944, 5280, 5736, 5976, 6036, 6264, 6444, 6648, 6712, 6784, 6856, 7072, 7120, 7228, 7456, 7492, 7588, 7624, 7708, 7804, 7912, 7984, 8068, 8260, 8596, 8764, 8824, 8884, 9028, 9148, 9196, 9400, 9472, 9640, 9844];
const lv6410 = [332, 632, 764, 908, 1364, 2072, 2204, 2264, 2480, 2984, 3456, 3876, 3984, 4620, 5244, 5952, 6012, 6432, 6760, 6868, 7036, 7108, 7156, 7396, 7540, 8380, 8776, 8944, 9052, 9208, 9604, 9736];
const lv6409 = [176, 212, 584, 932, 1340, 2024, 2792, 3420, 3996, 4404, 4476, 5988, 6408, 6712, 7168, 7228, 7552, 7576, 7696, 7792, 7876, 8092, 8236, 9088, 9316, 9448, 9568];
const lv6408 = [20, 68, 608, 860, 1136, 1280, 1460, 1856, 2324, 2588, 3032, 3320, 3348, 4044, 4092, 4164, 4296, 4356, 4824, 5364, 6348, 6540, 6724, 7012, 7648, 7780, 7924, 7960, 8308, 8592, 9244, 9388];
const lv6407 = [236, 260, 500, 608, 944, 2456, 2576, 3032, 3212, 3272, 3696, 3744, 3828, 3984, 4908, 5340, 6000, 6180, 7228, 7252, 8068, 8116, 8200, 8392, 8632, 8656, 8980, 9244, 9400, 9520];
const lv6406 = [2240, 2696, 2804, 3384, 3492, 3636, 4368, 7672, 7852, 8104, 8704, 9388];
const lv6405 = [308, 464, 476, 1736, 1928, 2012, 3492, 3528, 3672, 4272, 5628, 6692, 7504, 7636, 8908];
const lv6404 = [320, 368, 920, 1700, 4224, 4284, 4320, 6372, 9148];
const lv6403 = [92, 308, 1496, 4044, 7540, 8428, 8452, 9280];
const lv6402 = [1160, 4296, 5220, 8404, 9784];
const lv6401 = [8836];
const lv6400 = [3432, 8260];
const lv6399 = [1676, 3468, 7264, 7600];
const lv6398 = [164, 8200];
const lv6396 = [6806];

const levels: [number, number[]][] = [
  [6461, lv6461], [6458, lv6458], [6456, lv6456], [6455, lv6455], [6454, lv6454], [6453, lv6453], [6452, lv6452],
  [6451, lv6451], [6450, lv6450], [6449, lv6449], [6448, lv6448], [6447, lv6447], [6446, lv6446], [6445, lv6445],
  [6444, lv6444], [6443, lv6443], [6442, lv6442], [6441, lv6441], [6440, lv6440], [6439, lv6439], [6438, lv6438],
  [6437, lv6437], [6436, lv6436], [6435, lv6435], [6434, lv6434], [6433, lv6433], [6432, lv6432], [6431, lv6431],
  [6430, lv6430], [6429, lv6429], [6428, lv6428], [6427, lv6427], [6426, lv6426], [6425, lv6425], [6424, lv6424],
  [6423, lv6423], [6422, lv6422], [6421, lv6421], [6420, lv6420], [6419, lv6419], [6418, lv6418], [6417, lv6417],
  [6416, lv6416], [6415, lv6415], [6414, lv6414], [6413, lv6413], [6412, lv6412], [6411, lv6411], [6410, lv6410],
  [6409, lv6409], [6408, lv6408], [6407, lv6407], [6406, lv6406], [6405, lv6405], [6404, lv6404], [6403, lv6403],
  [6402, lv6402], [6401, lv6401], [6400, lv6400], [6399, lv6399], [6398, lv6398], [6396, lv6396],
];

const points = levels.flatMap(([y, xs]) => xs.map((x) => ({ x, y })));

const framePlugin = {
  id: "frame",
  afterDatasetsDraw(chart: any) {
    const { ctx, chartArea: a } = chart;
    ctx.save();
    ctx.strokeStyle = "#000";
    ctx.lineWidth = 1;
    ctx.strokeRect(a.left - 1, a.top, a.right - a.left, a.bottom - a.top - 1);

    const bx = 781.5, by = 43, bw = 194.5, bh = 44, r = 3.5;
    ctx.beginPath();
    ctx.roundRect(bx, by + 0.5, bw, bh, r);
    ctx.fillStyle = "rgba(255,255,255,0.8)";
    ctx.fill();
    ctx.strokeStyle = "#cccccc";
    ctx.stroke();

    ctx.fillStyle = "#000";
    ctx.beginPath();
    ctx.arc(801, 65, 3, 0, Math.PI * 2);
    ctx.fill();

    ctx.textBaseline = "alphabetic";
    ctx.textAlign = "left";
    const regular = `13.9px ${FONT}`;
    const italic = `italic 13.9px ${FONT}`;
    ctx.font = regular;
    ctx.fillText(seriesLabel, 826, 59);
    let x = 826;
    const parts: [string, string][] = [
      [italic, "\u03bc"], [regular, ` = ${meanValue}, `], [italic, "\u03c3"], [regular, ` = ${sigmaValue}`],
    ];
    for (const [font, text] of parts) {
      ctx.font = font;
      ctx.fillText(text, x, 76);
      x += ctx.measureText(text).width;
    }
    ctx.restore();
  },
};

export default function App() {
  const ref = useRef<HTMLCanvasElement>(null);
  useEffect(() => {
    const chart = new Chart(ref.current as HTMLCanvasElement, {
      type: "scatter",
      data: {
        datasets: [
          {
            label: seriesLabel,
            data: points,
            pointRadius: 3,
            pointHoverRadius: 3,
            pointBorderWidth: 0,
            pointBackgroundColor: "#000",
          },
        ],
      },
      plugins: [framePlugin],
      options: {
        animation: false,
        responsive: false,
        layout: { padding: { left: 0, right: 14.5, top: 0, bottom: 0 } },
        plugins: {
          legend: { display: false },
          tooltip: { enabled: false },
          title: {
            display: true,
            fullSize: false,
            text: titleText,
            color: "#000",
            font: { family: FONT, size: 16.67, weight: "normal", lineHeight: 1.2 },
            padding: { top: 13, bottom: 2.5 },
          },
        },
        scales: {
          x: {
            type: "linear",
            min: -479,
            max: 10353,
            afterBuildTicks: (s: any) => { s.ticks = xTickValues.map((value) => ({ value })); },
            afterFit: (s: any) => { s.height = 57.5; },
            title: { display: true, text: xAxisLabel, color: "#000", font: { family: FONT, size: 13.9 }, padding: { top: 0, bottom: 13 } },
            grid: { color: "#b0b0b0", lineWidth: 1, tickColor: "#000", tickLength: 5, drawTicks: true },
            border: { display: false },
            ticks: { color: "#000", font: { family: FONT, size: 13.9 }, padding: 3, maxRotation: 0, autoSkip: false, callback: (v: any) => String(v) },
          },
          y: {
            type: "linear",
            min: 6392.74,
            max: 6464.34,
            afterBuildTicks: (s: any) => { s.ticks = yTickValues.map((value) => ({ value })); },
            afterFit: (s: any) => { s.width = 81.5; },
            title: { display: true, text: yAxisLabel, color: "#000", font: { family: FONT, size: 13.9 }, padding: { top: 13, bottom: 0 } },
            grid: { color: "#b0b0b0", lineWidth: 1, tickColor: "#000", tickLength: 5, drawTicks: true },
            border: { display: false },
            ticks: { color: "#000", font: { family: FONT, size: 13.9 }, padding: 3, autoSkip: false, callback: (v: any) => String(v) },
          },
        },
      },
    } as any);
    return () => chart.destroy();
  }, []);
  return (
    <div style={{ position: "absolute", left: 0, top: 0, width: 1000, height: 1000, background: "#fff" }}>
      <canvas ref={ref} width={1000} height={1000} style={{ display: "block" }} />
    </div>
  );
}
